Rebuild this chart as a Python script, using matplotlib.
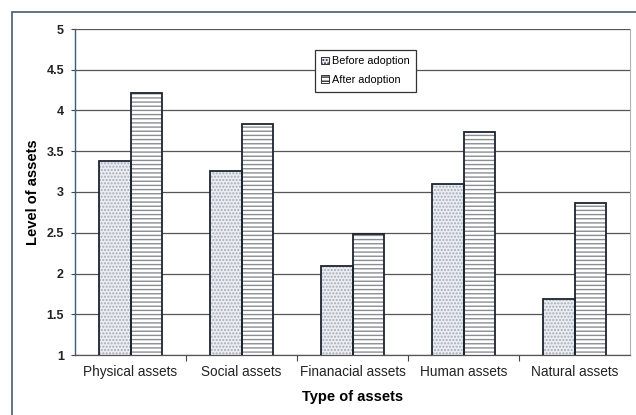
import numpy as np
import matplotlib.pyplot as plt
from matplotlib.patches import Rectangle

plt.rcParams['font.family'] = ['Liberation Sans', 'DejaVu Sans']

categories = ['Physical assets', 'Social assets', 'Finanacial assets', 'Human assets', 'Natural assets']
before = [3.38, 3.26, 2.09, 3.10, 1.69]
after = [4.21, 3.83, 2.49, 3.74, 2.86]
yticks = [1, 1.5, 2, 2.5, 3, 3.5, 4, 4.5, 5]
ytick_labels = ['1', '1.5', '2', '2.5', '3', '3.5', '4', '4.5', '5']

fig = plt.figure(figsize=(6.36, 4.15), dpi=100)
# plot area: x 75..630 px, y 29..355 px
ax = fig.add_axes([75/636, 1 - 355/415, 555/636, 326/415])

x = np.arange(len(categories))
w = 0.285

# filled + hatched bars, then dark outlines on top
ax.bar(x - w/2, before, w, color='#e9eef4', edgecolor='#a8acb2',
       hatch='.....', linewidth=0, zorder=2)
ax.bar(x + w/2, after, w, color='white', edgecolor='#8a8d92',
       hatch='----', linewidth=0, zorder=2)
ax.bar(x - w/2, before, w, fill=False, edgecolor='#1c2430', linewidth=1.3, zorder=3)
ax.bar(x + w/2, after, w, fill=False, edgecolor='#1c2430', linewidth=1.3, zorder=3)

ax.set_ylim(1, 5)
ax.set_xlim(-0.5, len(categories) - 0.5)
ax.set_yticks(yticks)
ax.set_yticklabels(ytick_labels, fontsize=9, fontweight='bold', color='#222222')
ax.set_xticks(x)
ax.set_xticklabels(categories, fontsize=9.8, color='#222222')
ax.set_xticks(np.arange(0.5, len(categories) - 0.5, 1), minor=True)
ax.tick_params(axis='x', which='major', length=0, pad=7)
ax.tick_params(axis='x', which='minor', length=4, width=0.8, color='#444444')
ax.tick_params(axis='y', length=3, width=0.8, color='#444444', pad=5)

ax.yaxis.grid(True, color='#555555', linewidth=0.9, zorder=0)
ax.set_axisbelow(True)
ax.spines['top'].set_visible(False)
ax.spines['right'].set_color('#b0b4b8')
ax.spines['right'].set_linewidth(0.8)
ax.spines['left'].set_color('#3d5a80')
ax.spines['left'].set_linewidth(1.0)
ax.spines['bottom'].set_color('#555555')
ax.spines['bottom'].set_linewidth(0.9)

ax.set_ylabel('Level of assets', fontsize=10.5, fontweight='bold')
ax.set_xlabel('Type of assets', fontsize=10.5, fontweight='bold')
ax.yaxis.set_label_coords(-0.063, 0.5)
ax.xaxis.set_label_coords(0.5, -0.108)

leg = ax.legend(['Before adoption', 'After adoption'], loc='upper left',
                bbox_to_anchor=(0.432, 0.936), fontsize=7.8, frameon=True,
                fancybox=False, edgecolor='#333333', framealpha=1,
                handlelength=0.7, handleheight=0.7, handletextpad=0.3,
                borderpad=0.6, labelspacing=0.8, borderaxespad=0)
leg.get_frame().set_linewidth(0.9)
for h in leg.legend_handles:
    h.set_edgecolor('#333333')
    h.set_linewidth(0.7)

# outer chart frame (right and bottom sides run off the picture)
fig.patches.append(Rectangle((12/636, -5/415), 640/636, 408/415,
                             transform=fig.transFigure, fill=False,
                             edgecolor='#4a5a6a', linewidth=1.2))

fig.savefig('out.png', dpi=100)
